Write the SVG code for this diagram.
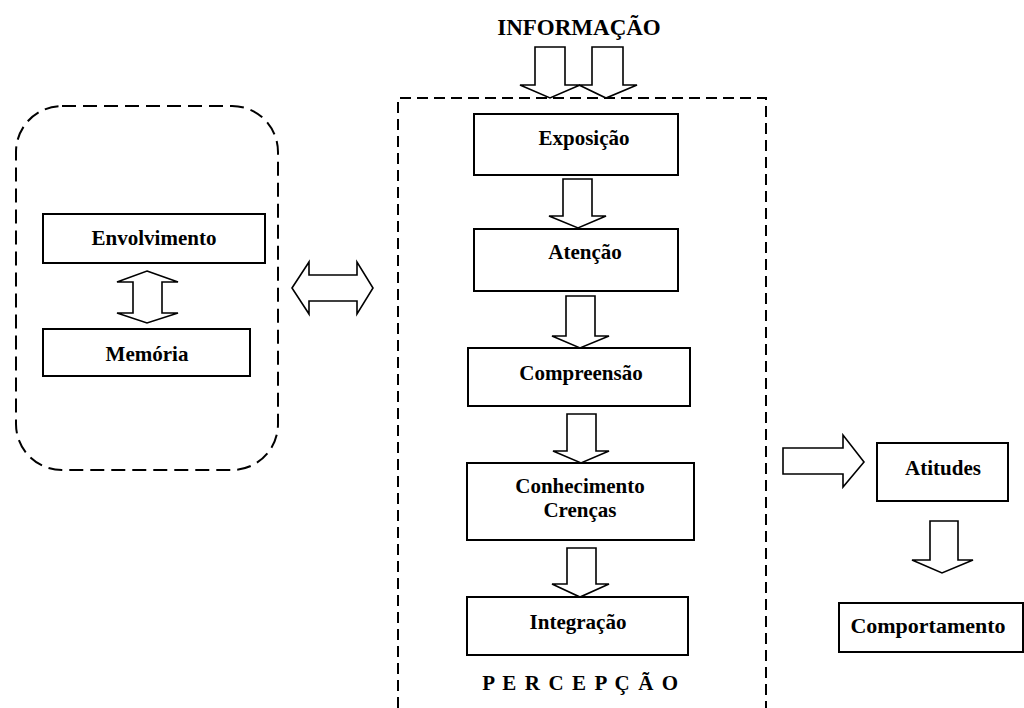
<svg xmlns="http://www.w3.org/2000/svg" width="1024" height="708" viewBox="0 0 1024 708">
  <style>
    .box { fill: #fff; stroke: #000; stroke-width: 2; }
    .arrow { fill: #fff; stroke: #000; stroke-width: 1.6; stroke-linejoin: miter; }
    .open { fill: none; stroke: #000; stroke-width: 1.6; }
    .dash { fill: none; stroke: #000; stroke-width: 2; stroke-dasharray: 11 6; }
    .lbl { font-family: "Liberation Serif", "Times New Roman", serif; font-weight: bold; font-size: 21px; text-anchor: middle; fill: #000; }
  </style>
  <rect width="1024" height="708" fill="#fff"/>

  <!-- frames -->
  <g id="frames">
    <rect class="dash" x="16" y="106" width="262" height="364" rx="46" ry="46" style="stroke-dasharray: 14 7"/>
    <path class="dash" d="M398,708 V98 H766 V708"/>
  </g>

  <!-- title and group label -->
  <text class="lbl" x="579" y="35" style="font-size:23px">INFORMAÇÃO</text>
  <text class="lbl" x="581" y="690" style="letter-spacing:1.6px">P E R C E P Ç Ã O</text>

  <!-- nodes -->
  <g id="envolvimento">
    <rect class="box" x="43" y="214" width="222" height="49"/>
    <text class="lbl" x="154" y="245">Envolvimento</text>
  </g>
  <g id="memoria">
    <rect class="box" x="43" y="329" width="207" height="47"/>
    <text class="lbl" x="147" y="361">Memória</text>
  </g>
  <g id="exposicao">
    <rect class="box" x="474" y="114" width="204" height="61"/>
    <text class="lbl" x="584" y="145">Exposição</text>
  </g>
  <g id="atencao">
    <rect class="box" x="474" y="229" width="204" height="62"/>
    <text class="lbl" x="585" y="259">Atenção</text>
  </g>
  <g id="compreensao">
    <rect class="box" x="468" y="348" width="222" height="58"/>
    <text class="lbl" x="581" y="380">Compreensão</text>
  </g>
  <g id="conhecimento">
    <rect class="box" x="467" y="463" width="227" height="77"/>
    <text class="lbl" x="580" y="493">Conhecimento</text>
    <text class="lbl" x="580" y="517">Crenças</text>
  </g>
  <g id="integracao">
    <rect class="box" x="467" y="597" width="221" height="58"/>
    <text class="lbl" x="578" y="629">Integração</text>
  </g>
  <g id="atitudes">
    <rect class="box" x="877" y="443" width="131" height="58"/>
    <text class="lbl" x="943" y="475">Atitudes</text>
  </g>
  <g id="comportamento">
    <rect class="box" x="839" y="603" width="184" height="49"/>
    <text class="lbl" x="928" y="633" style="font-size:22px">Comportamento</text>
  </g>

  <!-- connectors: block arrows -->
  <g id="connectors">
    <polygon class="open" points="535,47 565,47 565,85 580,85 550,98 520,85 535,85"/>
    <polygon class="open" points="592,47 623,47 623,85 637,85 606,98 579,85 592,85"/>
    <polygon class="arrow" points="563,179 592,179 592,216 606,216 578,228 549,216 563,216"/>
    <polygon class="arrow" points="566,296 595,296 595,336 609,336 580,348 552,336 566,336"/>
    <polygon class="arrow" points="567,414 596,414 596,451 609,451 581,463 553,451 567,451"/>
    <polygon class="arrow" points="567,548 596,548 596,584 609,584 580,597 552,584 567,584"/>
    <polygon class="arrow" points="147,271 178,282 162,282 162,313 178,313 147,323 117,313 133,313 133,282 117,282"/>
    <polygon class="arrow" points="292,288 309,262 309,275 357,275 357,262 373,288 357,314 357,301 309,301 309,314"/>
    <polygon class="arrow" points="783,448 843,448 843,435 864,462 843,487 843,474 783,474"/>
    <polygon class="arrow" points="930,521 958,521 958,560 973,560 942,573 912,560 930,560"/>
  </g>
</svg>
